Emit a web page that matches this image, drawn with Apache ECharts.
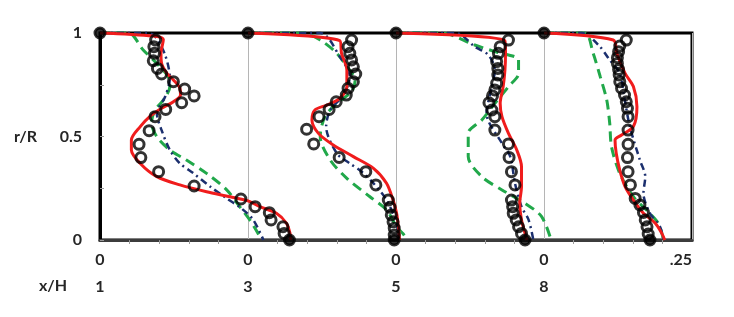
<!DOCTYPE html>
<html>
<head>
<meta charset="utf-8">
<script src="https://cdn.jsdelivr.net/npm/echarts@6/dist/echarts.min.js"></script>
<style>html,body{margin:0;padding:0;background:#fff}#c{width:734px;height:317px}</style>
</head>
<body>
<div id="c"></div>
<script>
// Station labels (x/H) and bottom tick labels
var stations = ['1', '3', '5', '8'];
var velTickLabels = ['0', '0', '0', '0', '.25'];
var panelWidth = 0.25;

// Experimental (circles): [u, r/R]
var exp1 = [[0,1],[0.094,0.966],[0.091,0.934],[0.092,0.902],[0.090,0.866],[0.097,0.829],[0.104,0.802],[0.124,0.765],[0.143,0.729],[0.159,0.696],[0.138,0.663],[0.111,0.631],[0.093,0.596],[0.083,0.528],[0.066,0.462],[0.069,0.398],[0.099,0.330],[0.159,0.261],[0.238,0.198],[0.262,0.161],[0.286,0.132],[0.289,0.097],[0.309,0.064],[0.311,0.032],[0.320,0]];
var exp2 = [[0,1],[0.175,0.966],[0.169,0.934],[0.172,0.902],[0.175,0.870],[0.178,0.837],[0.182,0.802],[0.178,0.765],[0.169,0.733],[0.166,0.700],[0.149,0.668],[0.137,0.631],[0.120,0.596],[0.099,0.535],[0.111,0.464],[0.154,0.399],[0.199,0.330],[0.216,0.266],[0.237,0.193],[0.240,0.158],[0.242,0.121],[0.245,0.088],[0.247,0.057],[0.247,0.024],[0.247,0]];
var exp3 = [[0,1],[0.190,0.966],[0.176,0.934],[0.173,0.902],[0.170,0.862],[0.172,0.829],[0.172,0.797],[0.170,0.757],[0.167,0.725],[0.163,0.696],[0.157,0.663],[0.162,0.628],[0.167,0.596],[0.167,0.531],[0.190,0.464],[0.191,0.399],[0.195,0.330],[0.201,0.266],[0.195,0.193],[0.197,0.161],[0.198,0.129],[0.203,0.097],[0.207,0.064],[0.212,0.032],[0.218,0]];
var exp4 = [[0,1],[0.139,0.966],[0.128,0.937],[0.126,0.910],[0.124,0.881],[0.124,0.853],[0.126,0.824],[0.127,0.797],[0.128,0.765],[0.131,0.733],[0.136,0.700],[0.139,0.668],[0.141,0.636],[0.142,0.596],[0.142,0.531],[0.142,0.462],[0.141,0.398],[0.142,0.330],[0.146,0.266],[0.154,0.201],[0.162,0.169],[0.168,0.133],[0.171,0.097],[0.174,0.064],[0.176,0.029],[0.179,0]];

// Red solid model
var red1 = [[0,1],[0.09,0.985],[0.107,0.968],[0.103,0.902],[0.104,0.853],[0.113,0.805],[0.124,0.773],[0.135,0.733],[0.136,0.700],[0.124,0.668],[0.104,0.636],[0.084,0.596],[0.068,0.548],[0.053,0.483],[0.053,0.435],[0.068,0.370],[0.096,0.306],[0.135,0.266],[0.180,0.233],[0.220,0.209],[0.250,0.189],[0.270,0.161],[0.298,0.129],[0.315,0.081],[0.321,0.032],[0.322,0]];
var red2 = [[0,1],[0.155,0.963],[0.158,0.902],[0.167,0.821],[0.167,0.741],[0.155,0.684],[0.133,0.652],[0.113,0.628],[0.108,0.580],[0.119,0.515],[0.144,0.459],[0.178,0.403],[0.212,0.346],[0.234,0.274],[0.245,0.193],[0.251,0.129],[0.254,0.064],[0.256,0]];
var red3 = [[0,1],[0.184,0.963],[0.185,0.902],[0.184,0.821],[0.181,0.741],[0.176,0.660],[0.179,0.596],[0.190,0.515],[0.204,0.435],[0.212,0.354],[0.212,0.258],[0.209,0.177],[0.212,0.097],[0.218,0.032],[0.221,0]];
var red4 = [[0,1],[0.117,0.966],[0.123,0.902],[0.137,0.805],[0.151,0.741],[0.157,0.644],[0.151,0.548],[0.131,0.507],[0.120,0.483],[0.122,0.419],[0.128,0.338],[0.137,0.258],[0.151,0.193],[0.168,0.129],[0.188,0.081],[0.199,0.032],[0.204,0]];

// Green dashed model
var green1 = [[0,1],[0.048,1],[0.073,0.918],[0.096,0.853],[0.115,0.789],[0.118,0.741],[0.107,0.676],[0.093,0.628],[0.087,0.564],[0.096,0.499],[0.118,0.435],[0.146,0.386],[0.180,0.322],[0.214,0.242],[0.236,0.161],[0.253,0.097],[0.267,0.032],[0.273,0]];
var green2 = [[0,1],[0.093,1],[0.122,0.966],[0.150,0.902],[0.167,0.837],[0.181,0.773],[0.175,0.717],[0.150,0.660],[0.130,0.596],[0.122,0.499],[0.139,0.386],[0.167,0.298],[0.206,0.209],[0.234,0.145],[0.251,0.064],[0.262,0.030],[0.270,0]];
var green3 = [[0,1],[0.077,1],[0.133,0.942],[0.167,0.910],[0.207,0.870],[0.207,0.805],[0.190,0.741],[0.167,0.660],[0.145,0.580],[0.122,0.515],[0.122,0.403],[0.145,0.306],[0.179,0.242],[0.218,0.177],[0.246,0.113],[0.262,0]];
var green4 = [[0,1],[0.069,1],[0.083,0.902],[0.095,0.789],[0.106,0.676],[0.111,0.564],[0.114,0.451],[0.128,0.322],[0.151,0.209],[0.173,0.145],[0.193,0.081],[0.202,0]];

// Blue dash-dot model
var blue1 = [[0,1],[0.080,1],[0.093,0.983],[0.110,0.894],[0.118,0.781],[0.110,0.692],[0.096,0.612],[0.104,0.531],[0.118,0.435],[0.135,0.370],[0.158,0.322],[0.186,0.258],[0.214,0.201],[0.240,0.150],[0.259,0.097],[0.276,0]];
var blue2 = [[0,1],[0.122,1],[0.155,0.886],[0.172,0.789],[0.161,0.700],[0.139,0.628],[0.132,0.548],[0.150,0.419],[0.172,0.370],[0.192,0.330],[0.212,0.274],[0.234,0.193],[0.251,0.081],[0.254,0]];
var blue3 = [[0,1],[0.100,1],[0.111,0.990],[0.133,0.934],[0.156,0.894],[0.167,0.821],[0.162,0.741],[0.153,0.612],[0.179,0.467],[0.193,0.403],[0.201,0.274],[0.212,0.161],[0.224,0.097],[0.232,0]];
var blue4 = [[0,1],[0.064,1],[0.092,0.942],[0.111,0.870],[0.128,0.805],[0.135,0.700],[0.145,0.548],[0.162,0.386],[0.171,0.306],[0.168,0.225],[0.179,0.129],[0.196,0.064],[0.202,0]];

var exps = [exp1, exp2, exp3, exp4];
var reds = [red1, red2, red3, red4];
var greens = [green1, green2, green3, green4];
var blues = [blue1, blue2, blue3, blue4];

function shift(arr, k) {
  return arr.map(function (p) { return [p[0] + k * panelWidth, p[1]]; });
}

var FONT = 'Lato';
var TXT = { fontFamily: FONT, fontSize: 16, fontWeight: 'bold', color: '#262626' };
function txt(extra) { var o = {}; for (var a in TXT) o[a] = TXT[a]; for (var b in extra) o[b] = extra[b]; return o; }

var series = [];
for (var k = 0; k < 4; k++) {
  series.push({
    type: 'line', data: shift(greens[k], k), smooth: 0.3, showSymbol: false, clip: false, z: 2,
    lineStyle: { color: '#21a84a', width: 3, type: [10, 6] }
  });
  series.push({
    type: 'line', data: shift(blues[k], k), smooth: 0.3, showSymbol: false, clip: false, z: 3,
    lineStyle: { color: '#1b2f6e', width: 2.5, type: [7, 4, 2, 4] }
  });
  series.push({
    type: 'line', data: shift(reds[k], k), smooth: 0.3, showSymbol: false, clip: false, z: 4,
    lineStyle: { color: '#f01c1c', width: 3 }
  });
  var e = shift(exps[k], k).map(function (p, i, a) {
    if (i === 0 || i === a.length - 1) {
      return { value: p, itemStyle: { color: '#000' } };
    }
    return p;
  });
  series.push({
    type: 'scatter', data: e, symbol: 'circle', symbolSize: 10, clip: false, z: 5,
    itemStyle: { color: 'rgba(255,255,255,0)', borderColor: '#000', borderWidth: 3 }
  });
}

var chart = echarts.init(document.getElementById('c'), null, { renderer: 'canvas' });
chart.setOption({
  animation: false,
  backgroundColor: '#fff',
  title: { text: 'x/H', left: 39, top: 278, padding: 0, textStyle: txt({}) },
  grid: { left: 100, right: 42, top: 33, bottom: 77, show: true, borderColor: '#000', borderWidth: 3, backgroundColor: 'transparent' },
  xAxis: [{
    type: 'value', min: 0, max: 1, interval: 0.25, position: 'bottom',
    axisLine: { show: true, onZero: false, lineStyle: { color: '#3c3c3c', width: 3 } },
    axisTick: { show: false },
    minorTick: { show: true, splitNumber: 5, length: 4, lineStyle: { color: '#999', width: 1 } },
    splitLine: { show: true, lineStyle: { color: '#b5b5b5', width: 1 } },
    axisLabel: txt({
      margin: 20, verticalAlign: 'middle', alignMaxLabel: 'right',
      formatter: function (v) { return velTickLabels[Math.round(v / panelWidth)]; }
    })
  }, {
    type: 'value', min: 0, max: 1, interval: 0.25, position: 'bottom', offset: 47,
    axisLine: { show: false }, axisTick: { show: false }, splitLine: { show: false },
    axisLabel: txt({
      margin: 0, verticalAlign: 'middle',
      formatter: function (v) { var i = Math.round(v / panelWidth); return i < stations.length ? stations[i] : ''; }
    })
  }],
  yAxis: {
    type: 'value', min: 0, max: 1, interval: 0.5,
    axisLine: { show: true, lineStyle: { color: '#000', width: 3 } },
    axisTick: { show: true, inside: true, length: 4, lineStyle: { color: '#999' } },
    minorTick: { show: true, splitNumber: 2, length: 4, lineStyle: { color: '#999' } },
    splitLine: { show: false },
    name: 'r/R', nameLocation: 'middle', nameRotate: 0, nameGap: 63,
    nameTextStyle: txt({}),
    axisLabel: txt({
      margin: 18,
      formatter: function (v) { return v === 0 ? '0' : (v === 1 ? '1' : '0.5'); }
    })
  },
  series: series
});
</script>
</body>
</html>
